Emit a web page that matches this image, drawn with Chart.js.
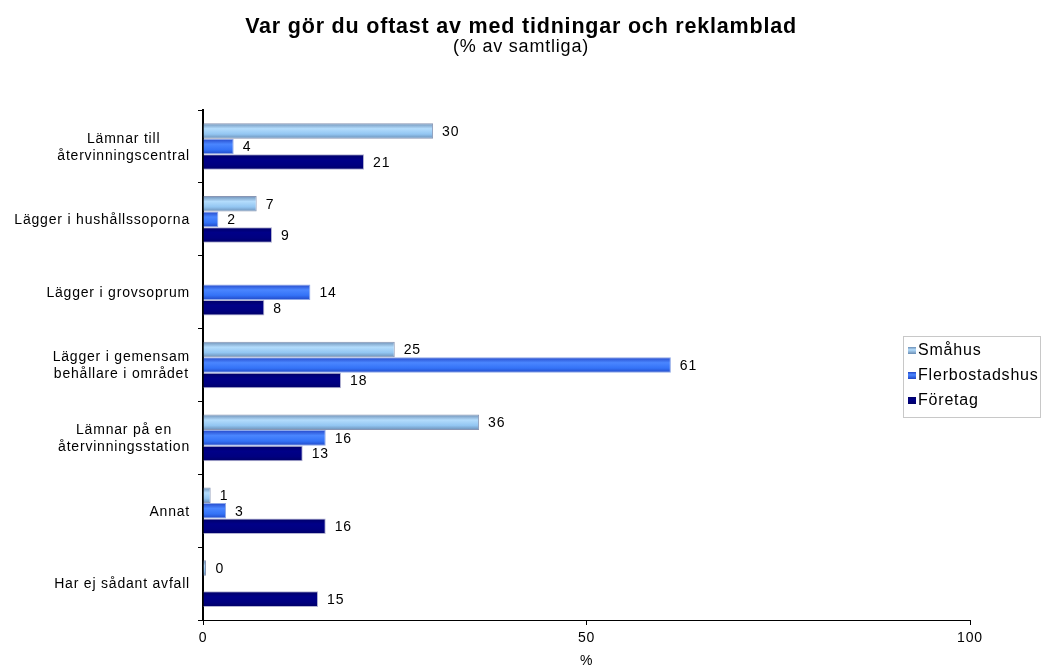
<!DOCTYPE html>
<html>
<head>
<meta charset="utf-8">
<script src="https://cdn.jsdelivr.net/npm/chart.js@4"></script>
<style>
  html, body { margin: 0; padding: 0; background: #fff; }
  #wrap { width: 1042px; height: 666px; }
</style>
</head>
<body>
<div id="wrap"><canvas id="chartCanvas" width="1042" height="666"></canvas></div>
<script>
var kategorier = [
    ["Lämnar till", "återvinningscentral"],
    "Lägger i hushållssoporna",
    "Lägger i grovsoprum",
    ["Lägger i gemensam", "behållare i området"],
    ["Lämnar på en", "återvinningsstation"],
    "Annat",
    "Har ej sådant avfall"
];
var smahus = [30, 7, null, 25, 36, 1, 0];
var flerbostadshus = [4, 2, 14, 61, 16, 3, null];
var foretag = [21, 9, 8, 18, 13, 16, 15];
var xTicks = [0, 50, 100];

var font = "'Liberation Sans', Arial, sans-serif";
var spacing = "0.8px";

// lite bredare teckenavstånd i all text
var textAvstand = {
    id: 'textAvstand',
    beforeLayout: function (chart) { chart.ctx.letterSpacing = spacing; },
    beforeDraw: function (chart) { chart.ctx.letterSpacing = spacing; }
};

// vertikal gradient i staplarna (mörkare kanter, ljus mitt)
var gradienter = {
    0: ["#6d8fb6", "#b3dcfc", "#93c6f2", "#6a8db4"],
    1: ["#2447c8", "#4a86ff", "#3473f7", "#2046c4"],
    2: ["#000066", "#000088", "#000080", "#000066"]
};
var stapelGradient = {
    id: 'stapelGradient',
    beforeDatasetsDraw: function (chart) {
        var ctx = chart.ctx;
        chart.data.datasets.forEach(function (ds, i) {
            var farger = gradienter[i];
            chart.getDatasetMeta(i).data.forEach(function (bar) {
                var top = bar.y - bar.height / 2;
                var g = ctx.createLinearGradient(0, top, 0, top + bar.height);
                g.addColorStop(0, farger[0]);
                g.addColorStop(0.35, farger[1]);
                g.addColorStop(0.7, farger[2]);
                g.addColorStop(1, farger[3]);
                bar.options.backgroundColor = g;
            });
        });
    }
};

// kategorinamnen: raderna centrerade mot varandra, blocket högerställt
var kategoriEtiketter = {
    id: 'kategoriEtiketter',
    afterDraw: function (chart) {
        var ctx = chart.ctx;
        var skala = chart.scales.y;
        ctx.save();
        ctx.letterSpacing = spacing;
        ctx.font = "14px " + font;
        ctx.fillStyle = "#000";
        ctx.textAlign = "center";
        ctx.textBaseline = "middle";
        chart.data.labels.forEach(function (lbl, i) {
            var rader = Array.isArray(lbl) ? lbl : [lbl];
            var bredd = Math.max.apply(null, rader.map(function (r) { return ctx.measureText(r).width; }));
            var cx = skala.right - 13 - bredd / 2;
            var y = skala.getPixelForTick(i);
            rader.forEach(function (r, k) {
                ctx.fillText(r, cx, y + 1 + (k - (rader.length - 1) / 2) * 17);
            });
        });
        ctx.restore();
    }
};

// värdet skrivs till höger om varje stapel
var vardeEtiketter = {
    id: 'vardeEtiketter',
    afterDatasetsDraw: function (chart) {
        var ctx = chart.ctx;
        ctx.save();
        ctx.letterSpacing = spacing;
        ctx.font = "14px " + font;
        ctx.fillStyle = "#000";
        ctx.textAlign = "left";
        ctx.textBaseline = "middle";
        chart.data.datasets.forEach(function (ds, i) {
            chart.getDatasetMeta(i).data.forEach(function (bar, j) {
                var v = ds.data[j];
                if (v === null || v === undefined) return;
                ctx.fillText(String(v), Math.max(bar.x, bar.base + 3) + 9, bar.y + 1);
            });
        });
        ctx.restore();
    }
};

// förklaringsruta till höger, ovanpå diagramytan
var forklaring = {
    id: 'forklaring',
    afterDraw: function (chart) {
        var ctx = chart.ctx;
        var x = 903, y = 336, w = 137, h = 81;
        ctx.save();
        ctx.letterSpacing = spacing;
        ctx.fillStyle = "#fff";
        ctx.fillRect(x, y, w, h);
        ctx.strokeStyle = "#c8c8c8";
        ctx.lineWidth = 1;
        ctx.strokeRect(x + 0.5, y + 0.5, w, h);
        ctx.font = "16px " + font;
        ctx.textBaseline = "middle";
        chart.data.datasets.forEach(function (ds, i) {
            var ry = y + 14 + i * 25;
            var farger = gradienter[i];
            var g = ctx.createLinearGradient(0, ry - 3, 0, ry + 4);
            g.addColorStop(0, farger[0]);
            g.addColorStop(0.4, farger[1]);
            g.addColorStop(1, farger[3]);
            ctx.fillStyle = g;
            ctx.fillRect(x + 5, ry - 3, 8, 7);
            ctx.fillStyle = "#000";
            ctx.fillText(ds.label, x + 15, ry + 1);
        });
        ctx.restore();
    }
};

new Chart(document.getElementById("chartCanvas"), {
    type: 'bar',
    data: {
        labels: kategorier,
        datasets: [{
            label: "Småhus",
            data: smahus,
            backgroundColor: function () { return "#9fcdf6"; },
            borderColor: "#8896b4",
            borderWidth: 1,
            minBarLength: 3
        }, {
            label: "Flerbostadshus",
            data: flerbostadshus,
            backgroundColor: function () { return "#2f6af5"; },
            borderColor: "#8fa8e8",
            borderWidth: 1
        }, {
            label: "Företag",
            data: foretag,
            backgroundColor: function () { return "#000080"; },
            borderColor: "#b4b4d2",
            borderWidth: 1
        }]
    },
    options: {
        indexAxis: 'y',
        responsive: false,
        animation: false,
        layout: { padding: { top: 10, right: 0, left: 0, bottom: 0 } },
        datasets: {
            bar: { categoryPercentage: 0.64, barPercentage: 1, skipNull: false }
        },
        plugins: {
            legend: { display: false },
            tooltip: { enabled: false },
            title: {
                display: true,
                text: "Var gör du oftast av med tidningar och reklamblad",
                color: "#000",
                font: { family: font, size: 21.5, weight: 'bold', lineHeight: 1 },
                padding: { top: 6, bottom: 0 }
            },
            subtitle: {
                display: true,
                text: "(% av samtliga)",
                color: "#000",
                font: { family: font, size: 18, lineHeight: 1.2 },
                padding: { top: -1, bottom: 52 }
            }
        },
        scales: {
            x: {
                min: 0,
                max: 100,
                afterBuildTicks: function (scale) {
                    scale.ticks = xTicks.map(function (v) { return { value: v }; });
                },
                afterFit: function (scale) {
                    scale.height = 46;
                    scale.paddingRight = 72;
                },
                border: { display: true, color: "#000", width: 1 },
                grid: { drawOnChartArea: false, drawTicks: true, tickLength: 5, color: "#000" },
                ticks: { color: "#000", font: { family: font, size: 14 }, padding: 5, maxRotation: 0 },
                title: { display: true, text: "%", color: "#000", font: { family: font, size: 14 }, padding: { top: 0, bottom: -4 } }
            },
            y: {
                afterFit: function (scale) { scale.width = 203; },
                border: { display: true, color: "#000", width: 2 },
                grid: { offset: true, drawOnChartArea: false, drawTicks: true, tickLength: 5, color: "#000" },
                ticks: { display: false }
            }
        }
    },
    plugins: [textAvstand, stapelGradient, kategoriEtiketter, vardeEtiketter, forklaring]
});
</script>
</body>
</html>
